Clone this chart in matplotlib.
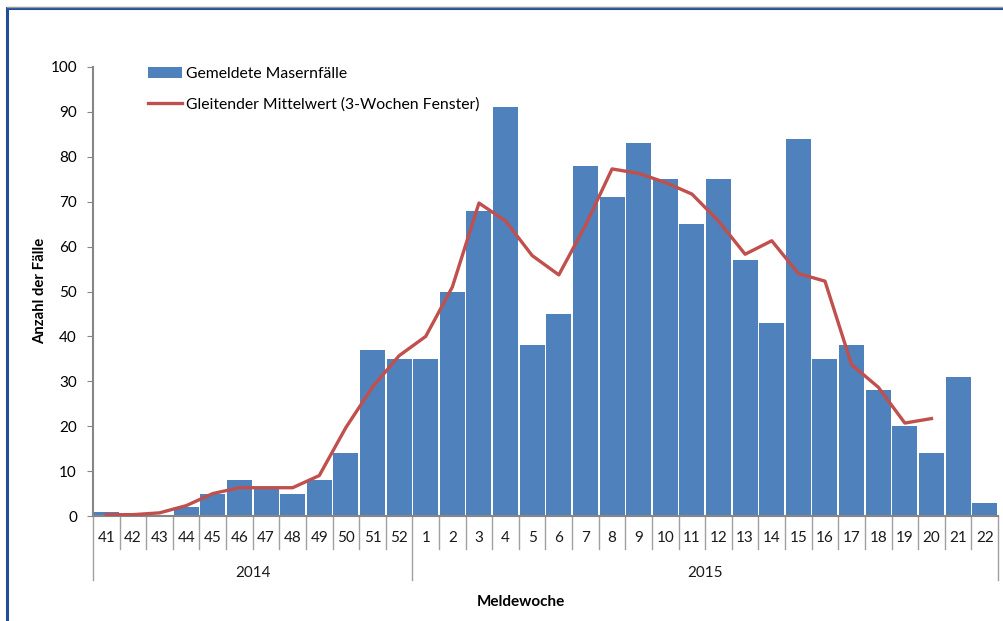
import matplotlib
matplotlib.use("Agg")
import matplotlib.pyplot as plt
import matplotlib.transforms as mtransforms
from matplotlib.patches import Rectangle
import numpy as np

plt.rcParams['font.family'] = ['Lato', 'DejaVu Sans']

weeks = ["41", "42", "43", "44", "45", "46", "47", "48", "49", "50", "51", "52",
         "1", "2", "3", "4", "5", "6", "7", "8", "9", "10", "11", "12", "13", "14",
         "15", "16", "17", "18", "19", "20", "21", "22"]
cases = [1, 0, 0, 2, 5, 8, 6, 5, 8, 14, 37, 35,
         35, 50, 68, 91, 38, 45, 78, 71, 83, 75, 65, 75, 57, 43,
         84, 35, 38, 28, 20, 14, 31, 3]
# moving average, drawn for weeks 41 .. 2015-20
ma_weeks = weeks[0:32]
moving_avg = [0.3, 0.3, 0.7, 2.3, 5.0, 6.3, 6.3, 6.3, 9.0, 19.7, 28.7, 35.7,
              40.0, 51.0, 69.7, 65.7, 58.0, 53.7, 64.7, 77.3, 76.3, 74.3, 71.7,
              65.7, 58.3, 61.3, 54.0, 52.3, 33.7, 28.7, 20.7, 21.7]
years = ["2014", "2015"]
year_counts = [12, 22]

W, H = 1004, 621
fig = plt.figure(figsize=(W / 100, H / 100), dpi=100)

# outer frame
fig.patches.append(Rectangle((7 / W, -0.1), 1.2, 1 - 8 / H + 0.1, transform=fig.transFigure,
                             fill=False, edgecolor='#1F4E9A', linewidth=2.2, zorder=0))
fig.lines.append(plt.Line2D([7 / W, 1.0], [1 - 6.5 / H, 1 - 6.5 / H], transform=fig.transFigure,
                            color='#9a9a9a', linewidth=1))

x0, x1, y0, y1 = 93, 998, 67, 516
ax = fig.add_axes([x0 / W, 1 - y1 / H, (x1 - x0) / W, (y1 - y0) / H])

gray = '#868686'
fs = 11
x = np.arange(len(weeks))
bars = ax.bar(x, cases, width=0.94, color='#4F81BD', label='Gemeldete Masernfälle', zorder=2)
ma_x = [weeks.index(w) for w in ma_weeks]
line, = ax.plot(ma_x, moving_avg, color='#C0504D', linewidth=2.4,
                label='Gleitender Mittelwert (3-Wochen Fenster)', zorder=3)

ax.set_xlim(-0.5, len(weeks) - 0.5)
ax.set_ylim(0, 100)
ax.set_yticks(np.arange(0, 101, 10))
ax.tick_params(axis='y', direction='out', length=4.3, color=gray, labelsize=fs, pad=7.2)
ax.set_xticks([])
for s in ['top', 'right']:
    ax.spines[s].set_visible(False)
for s in ['left', 'bottom']:
    ax.spines[s].set_color(gray)
    ax.spines[s].set_linewidth(1.5)

trans = mtransforms.blended_transform_factory(ax.transData, ax.transAxes)
ah = y1 - y0
wk_bottom = -(549 - 516) / ah
yr_bottom = -(580 - 516) / ah
bounds = [0] + list(np.cumsum(year_counts))
for i in range(len(weeks) + 1):
    bot = yr_bottom if i in bounds else wk_bottom
    ax.plot([i - 0.5, i - 0.5], [0, bot], transform=trans, color='#a0a0a0',
            linewidth=1, clip_on=False)
for i, w in enumerate(weeks):
    ax.text(i, -(538 - 516) / ah, w, transform=trans, ha='center', va='center',
            fontsize=fs, color='#1a1a1a')
for k, yname in enumerate(years):
    c = (bounds[k] + bounds[k + 1]) / 2 - 0.5
    ax.text(c, -(573 - 516) / ah, yname, transform=trans, ha='center', va='center',
            fontsize=fs, color='#1a1a1a')

fig.text(521 / W, 1 - 602 / H, 'Meldewoche', ha='center', va='center',
         fontsize=11, fontweight='bold')
fig.text(40 / W, 1 - 291 / H, 'Anzahl der Fälle', rotation=90, ha='center', va='center',
         fontsize=10.7, fontweight='bold')

ax.legend([bars, line], [bars.get_label(), line.get_label()],
          loc='upper left', bbox_to_anchor=((140 - x0) / (x1 - x0), 1.017), frameon=False,
          fontsize=11.3, labelspacing=1.0, handlelength=2.2, handletextpad=0.25,
          borderpad=0)

fig.savefig('out.png', dpi=100)
